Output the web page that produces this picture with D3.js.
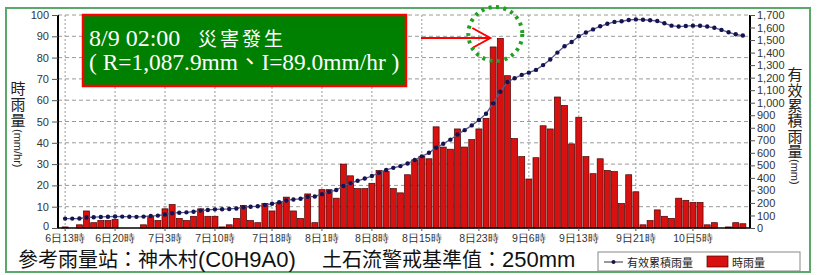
<!DOCTYPE html>
<html><head><meta charset="utf-8">
<script src="https://cdn.jsdelivr.net/npm/d3@7"></script>
<style>body{margin:0;background:#fff}</style>
</head><body><svg id="c" width="818" height="275"></svg>
<script>
const hours = [
"6日13時","6日14時","6日15時","6日16時","6日17時","6日18時","6日19時","6日20時","6日21時","6日22時","6日23時",
"7日0時","7日1時","7日2時","7日3時","7日4時","7日5時","7日6時","7日7時","7日8時","7日9時","7日10時","7日11時","7日12時","7日13時","7日14時","7日15時","7日16時","7日17時","7日18時","7日19時","7日20時","7日21時","7日22時","7日23時",
"8日0時","8日1時","8日2時","8日3時","8日4時","8日5時","8日6時","8日7時","8日8時","8日9時","8日10時","8日11時","8日12時","8日13時","8日14時","8日15時","8日16時","8日17時","8日18時","8日19時","8日20時","8日21時","8日22時","8日23時",
"9日0時","9日1時","9日2時","9日3時","9日4時","9日5時","9日6時","9日7時","9日8時","9日9時","9日10時","9日11時","9日12時","9日13時","9日14時","9日15時","9日16時","9日17時","9日18時","9日19時","9日20時","9日21時","9日22時","9日23時",
"10日0時","10日1時","10日2時","10日3時","10日4時","10日5時","10日6時","10日7時","10日8時","10日9時","10日10時","10日11時","10日12時"];
const hourlyRain = [
0.5,0,1.5,8,2.5,3.5,3.5,4,0,0,0,
1.5,5.5,3.5,9,11,4.5,3.5,5.5,9,5.5,5.5,0.5,1.5,4.5,10.5,3.5,2.5,11.5,8,12,14.5,8,4.5,16,
2.5,18,18,14,30,24.5,18.5,18.5,21,27,26.5,18.5,16.5,25,32,33.5,32.5,47.5,38,37,46.5,38,41.5,46.5,
51.5,85,89,71.5,42,33.5,23,33,48,46.5,61.5,57.5,39.5,52,33.5,25.5,32.5,27,26.5,11.5,25,17,1.5,3.5,
8.5,5.5,4.5,14,13,12,12,1.5,2.5,0,0.5,2.5,2];
const effectiveCum = [
75,75,76,84,86,88,90,92,91,90,89,
91,96,99,108,118,122,125,130,139,144,149,150,152,156,166,170,173,184,193,205,220,228,233,249,
252,270,288,303,335,358,377,395,415,440,463,480,494,515,543,572,600,640,672,705,746,781,819,862,
912,995,1087.9,1165,1195,1222,1240,1262,1300,1345,1400,1450,1485,1530,1560,1585,1610,1630,1645,1650,1660,1665,1662,1658,
1652,1634,1615,1608,1612,1615,1614,1608,1598,1581,1562,1546,1536];
const leftTicks = [0,10,20,30,40,50,60,70,80,90,100];
const rightTicks = [0,100,200,300,400,500,600,700,800,900,1000,1100,1200,1300,1400,1500,1600,1700];
const xTickLabels = ["6日13時","6日20時","7日3時","7日10時","7日18時","8日1時","8日8時","8日15時","8日23時","9日6時","9日13時","9日21時","10日5時"];
const leftTitle = "時雨量", leftUnit = "(mm/hr)";
const rightTitle = "有效累積雨量", rightUnit = "(mm)";
const eventTime = "8/9 02:00", eventText = "災害發生", eventDetail = "( R=1,087.9mm、I=89.0mm/hr )";
const eventHour = "9日2時";
const footStation = "參考雨量站：神木村", footCode = "(C0H9A0)", footWarn = "土石流警戒基準值：", footValue = "250mm";
const legendNames = ["有效累積雨量","時雨量"];

const svg = d3.select("#c");
const L = 58, R = 750, T = 15, B = 228;
const step = (R - L) / (hours.length + 1);
const x = d3.scaleBand().domain(hours).range([L + step/2, R - step/2]).paddingInner(0.16).paddingOuter(0.08);
const cx = d => x(d) + x.bandwidth()/2;
const yL = d3.scaleLinear().domain([0,100]).range([B,T]);
const yR = d3.scaleLinear().domain([0,1700]).range([B,T]);
const latin = "'Liberation Sans', Arial, sans-serif";
const cjk = "'Noto Sans CJK TC', 'Noto Sans CJK SC', sans-serif";

// outer frame
svg.append("rect").attr("x",6).attr("y",8).attr("width",804).attr("height",264)
  .attr("fill","none").attr("stroke","#5aa86a").attr("stroke-width",2);

// gridlines
svg.append("g").selectAll("line").data(leftTicks.filter(d=>d>0)).join("line")
  .attr("x1",L).attr("x2",R).attr("y1",d=>yL(d)).attr("y2",d=>yL(d))
  .attr("stroke","#9a9a9a").attr("stroke-width",1).attr("stroke-dasharray","4,3");
svg.append("g").selectAll("line").data(xTickLabels).join("line")
  .attr("x1",d=>cx(d)).attr("x2",d=>cx(d)).attr("y1",T).attr("y2",B)
  .attr("stroke","#9a9a9a").attr("stroke-width",1).attr("stroke-dasharray","2,2");

// bars
svg.append("g").selectAll("rect").data(hours).join("rect")
  .attr("x",d=>x(d)).attr("width",x.bandwidth())
  .attr("y",(d,i)=>yL(hourlyRain[i])).attr("height",(d,i)=>B - yL(hourlyRain[i]))
  .attr("fill","#d81010").attr("stroke","#4a0000").attr("stroke-width",0.7);

// line
const line = d3.line().x((d,i)=>cx(hours[i])).y(d=>yR(d));
svg.append("path").datum(effectiveCum).attr("d",line).attr("fill","none")
  .attr("stroke","#5a5a8a").attr("stroke-width",1.3);
svg.append("g").selectAll("circle").data(effectiveCum).join("circle")
  .attr("cx",(d,i)=>cx(hours[i])).attr("cy",d=>yR(d)).attr("r",2.2).attr("fill","#141452");

// axes
const axL = svg.append("g").attr("transform",`translate(${L},0)`).call(d3.axisLeft(yL).tickValues(leftTicks).tickSize(6).tickPadding(3));
const axR = svg.append("g").attr("transform",`translate(${R},0)`).call(d3.axisRight(yR).tickValues(rightTicks).tickSize(5).tickPadding(2).tickFormat(d3.format(",")));
const axB = svg.append("g").attr("transform",`translate(0,${B})`).call(d3.axisBottom(x).tickValues(xTickLabels).tickSize(3).tickPadding(3.5));
[axL,axR,axB].forEach(a=>{
  a.select(".domain").attr("stroke","#000").attr("stroke-width",2);
  a.selectAll(".tick line").attr("stroke","#555");
  a.selectAll("text").attr("font-family",latin).attr("font-size",11).attr("fill","#333");
});
axB.selectAll("text").attr("font-size",10.5);
axL.selectAll(".tick").filter(d=>d===0).select("text").attr("dy","0.1em");
axB.select(".domain").attr("d",`M${L},0H${R}`).attr("stroke-width",1.5);
axL.select(".domain").attr("d",`M0,${T}V${B}`);
axR.select(".domain").attr("d",`M0,${T}V${B}`);

// axis titles (vertical writing)
const lt = svg.append("text").attr("x",18).attr("y",81).attr("fill","#222")
  .style("writing-mode","vertical-rl").attr("font-family",cjk).attr("font-size",15).attr("letter-spacing",1);
lt.append("tspan").text(leftTitle);
lt.append("tspan").attr("font-family",latin).attr("font-size",11).attr("letter-spacing",0).text(leftUnit);
const rt = svg.append("text").attr("x",795).attr("y",67).attr("fill","#222")
  .style("writing-mode","vertical-rl").attr("font-family",cjk).attr("font-size",15).attr("letter-spacing",0.4);
rt.append("tspan").text(rightTitle);
rt.append("tspan").attr("font-family",latin).attr("font-size",11).attr("letter-spacing",0).text(rightUnit);

// annotation
svg.append("rect").attr("x",83).attr("y",15).attr("width",323).attr("height",71)
  .attr("fill","#008000").attr("stroke","#ff0000").attr("stroke-width",2.5);
const t1 = svg.append("text").attr("x",89).attr("y",46).attr("fill","#fff").attr("font-size",24)
  .attr("font-family","'Liberation Serif', 'Times New Roman', serif");
t1.append("tspan").text(eventTime);
t1.append("tspan").attr("x",198).attr("font-family",cjk).attr("font-size",19).attr("letter-spacing",3).text(eventText);
svg.append("text").attr("x",89).attr("y",70).attr("fill","#fff").attr("font-size",23.4)
  .attr("font-family","'Liberation Serif', 'Noto Sans CJK TC', serif").text(eventDetail);
// arrow
const ay = 38, ax2 = cx(eventHour) - 10;
svg.append("line").attr("x1",421).attr("x2",ax2).attr("y1",ay).attr("y2",ay).attr("stroke","#ff0000").attr("stroke-width",2);
svg.append("polyline").attr("points",`${ax2-18},${ay-10} ${ax2},${ay} ${ax2-18},${ay+10}`)
  .attr("fill","none").attr("stroke","#ff0000").attr("stroke-width",2);
// dotted circle
svg.append("circle").attr("cx",cx(eventHour)-5).attr("cy",34).attr("r",27).attr("fill","none")
  .attr("stroke","#1fa01f").attr("stroke-width",4).attr("stroke-dasharray","3,4.5");

// footer
const ft = svg.append("text").attr("x",18).attr("y",267).attr("fill","#111");
ft.append("tspan").attr("font-family",cjk).attr("font-size",20).text(footStation);
ft.append("tspan").attr("font-family",latin).attr("font-size",22).text(footCode);
ft.append("tspan").attr("x",322).attr("font-family",cjk).attr("font-size",20).text(footWarn);
ft.append("tspan").attr("font-family",latin).attr("font-size",22).text(footValue);

// legend
const lg = svg.append("g");
lg.append("rect").attr("x",598).attr("y",252).attr("width",202).attr("height",19).attr("fill","#fff").attr("stroke","#888");
lg.append("line").attr("x1",604).attr("x2",623).attr("y1",262).attr("y2",262).attr("stroke","#333").attr("stroke-width",1);
lg.append("circle").attr("cx",613.5).attr("cy",262).attr("r",2).attr("fill","#141452");
lg.append("text").attr("x",627).attr("y",266.5).attr("font-family",cjk).attr("font-size",11).attr("fill","#222").text(legendNames[0]);
lg.append("rect").attr("x",707).attr("y",256).attr("width",21).attr("height",11).attr("fill","#d81010").attr("stroke","#4a0000").attr("stroke-width",0.7);
lg.append("text").attr("x",732).attr("y",266.5).attr("font-family",cjk).attr("font-size",11).attr("fill","#222").text(legendNames[1]);
</script></body></html>
